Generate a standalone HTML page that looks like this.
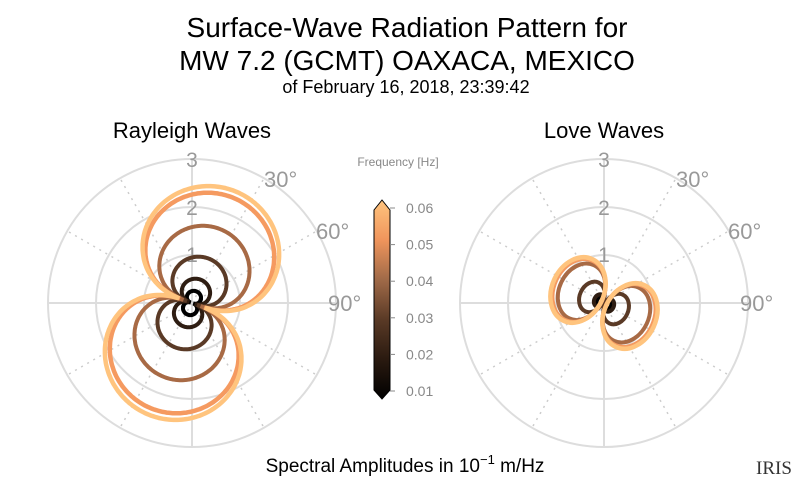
<!DOCTYPE html>
<html><head><meta charset="utf-8"><style>
body{margin:0;background:#fff;}
svg{display:block;font-family:"Liberation Sans",sans-serif;}
</style></head><body>
<svg id="s" width="800" height="493" viewBox="0 0 800 493" xmlns="http://www.w3.org/2000/svg">
<defs>
<linearGradient id="cb" x1="0" y1="1" x2="0" y2="0">
<stop offset="0" stop-color="#000"/>
<stop offset="0.2" stop-color="#2a1a10"/>
<stop offset="0.4" stop-color="#5a3a26"/>
<stop offset="0.6" stop-color="#a06a48"/>
<stop offset="0.8" stop-color="#f0955c"/>
<stop offset="1" stop-color="#ffc47e"/>
</linearGradient>
</defs>
<text x="407" y="37" font-size="28" text-anchor="middle">Surface-Wave Radiation Pattern for</text>
<text x="407" y="70" font-size="28" text-anchor="middle">MW 7.2 (GCMT) OAXACA, MEXICO</text>
<text x="406" y="93" font-size="18" text-anchor="middle">of February 16, 2018, 23:39:42</text>
<text x="192" y="138" font-size="22" text-anchor="middle">Rayleigh Waves</text>
<text x="604" y="138" font-size="22" text-anchor="middle">Love Waves</text>
<text x="405" y="472" font-size="19" text-anchor="middle">Spectral Amplitudes in 10<tspan dy="-8" font-size="13">−1</tspan><tspan dy="8"> m/Hz</tspan></text>
<text x="398" y="166" font-size="12" fill="#888" text-anchor="middle">Frequency [Hz]</text>
<path d="M374,210 L382,200 L390,210 L390,390 L382,399 L374,390 Z" fill="url(#cb)" stroke="#000" stroke-width="1"/>
<g fill="#888" font-size="14">
<g stroke="#888"><line x1="390" y1="208" x2="395" y2="208"/><line x1="390" y1="244.6" x2="395" y2="244.6"/><line x1="390" y1="281.2" x2="395" y2="281.2"/><line x1="390" y1="317.8" x2="395" y2="317.8"/><line x1="390" y1="354.4" x2="395" y2="354.4"/><line x1="390" y1="391" x2="395" y2="391"/></g>
<text x="406" y="213">0.06</text><text x="406" y="249.6">0.05</text><text x="406" y="286.2">0.04</text><text x="406" y="322.8">0.03</text><text x="406" y="359.4">0.02</text><text x="406" y="396">0.01</text>
</g>
<g id="p1"></g><g id="p2"></g>
<text x="774" y="474" font-size="19" font-family="Liberation Serif,serif" text-anchor="middle" fill="#333">IRIS</text>
</svg>
<script>
var NS="http://www.w3.org/2000/svg";
function el(p,t,a){var e=document.createElementNS(NS,t);for(var k in a)e.setAttribute(k,a[k]);p.appendChild(e);return e;}
function grid(g,cx,cy){
 [48,96,144].forEach(function(r){el(g,"circle",{cx:cx,cy:cy,r:r,fill:"none",stroke:"#ddd","stroke-width":2});});
 for(var a=0;a<360;a+=30){var t=a*Math.PI/180;var solid=(a%90==0);
  el(g,"line",{x1:cx,y1:cy,x2:cx+144*Math.sin(t),y2:cy-144*Math.cos(t),stroke:solid?"#ddd":"#ccc","stroke-width":solid?2:1.5,"stroke-dasharray":solid?"":"2,5"});}
 var lab=[["3",cx,167],["2",cx,215],["1",cx,262]];
 lab.forEach(function(l){var t=el(g,"text",{x:l[1],y:l[2],"font-size":21,fill:"#999","text-anchor":"middle"});t.textContent=l[0];});
 [["30°",cx+80,187],["60°",cx+132,239],["90°",cx+144,311]].forEach(function(l){var t=el(g,"text",{x:l[1]-8,y:l[2],"font-size":22,fill:"#999"});t.textContent=l[0];});
}
var cols=["#000","#2e1d12","#5a3a26","#a86a45","#f59a60","#ffc47e"];
function pattern(g,cx,cy,sizes,phi,pw,c){
 sizes.forEach(function(d,i){var s="";for(var k=0;k<=360;k++){var t=k*Math.PI/180;var v=Math.abs(Math.cos(t-phi));var r=d*(Math.pow(v,pw)+c);
  s+=(k?"L":"M")+(cx+r*Math.sin(t)).toFixed(1)+","+(cy-r*Math.cos(t)).toFixed(1);}
  el(g,"path",{d:s+"Z",fill:"none",stroke:cols[i],"stroke-width":i>=4?4.5:4});});
}
function love(g,cx,cy,sizes){
 sizes.forEach(function(d,i){var s=d/58;
  [1,-1].forEach(function(sg){
   var ex=cx-sg*26*s, ey=cy-sg*13*s;
   el(g,"ellipse",{cx:ex,cy:ey,rx:Math.max(26*s,3),ry:Math.max(34*s,4),
    transform:"rotate(25 "+ex+" "+ey+")",fill:"none",stroke:cols[i],"stroke-width":i>=4?4.5:4});
  });});
}
var p1=document.getElementById("p1"),p2=document.getElementById("p2");
grid(p1,192,303);grid(p2,604,303);
pattern(p1,192,303,[11,22,42,70,100,106],20*Math.PI/180,0.75,0.13);
love(p2,604,303,[8,11,27,50,56,58]);
</script>
</body></html>
